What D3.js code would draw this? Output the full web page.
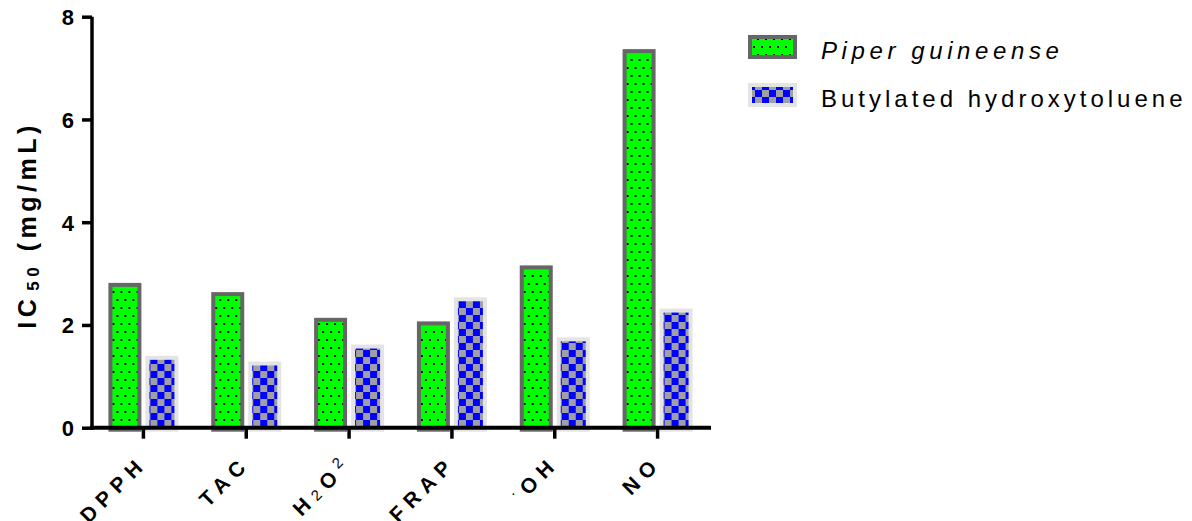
<!DOCTYPE html>
<html><head><meta charset="utf-8">
<script src="https://cdn.jsdelivr.net/npm/d3@7"></script>
<style>
html,body{margin:0;padding:0;background:#fff;}
svg{display:block;font-family:"Liberation Sans",Arial,sans-serif;}
</style></head>
<body>
<svg id="c" width="1192" height="521"></svg>
<script>
// ---- data ----
const categories = ["DPPH", "TAC", "H2O2", "FRAP", "OH", "NO"];
const categoryLabels = [
  [["DPPH", ""]],
  [["TAC", ""]],
  [["H", ""], ["2", "sub"], ["O", ""], ["2", "sup"]],
  [["FRAP", ""]],
  [["·", "sup"], ["OH", ""]],
  [["NO", ""]]
];
const seriesNames = ["Piper guineense", "Butylated hydroxytoluene"];
const piperValues = [2.78, 2.60, 2.10, 2.03, 3.12, 7.33];
const bhtValues = [1.36, 1.25, 1.58, 2.50, 1.72, 2.28];
const yTicks = [0, 2, 4, 6, 8];

const svg = d3.select("#c");
const defs = svg.append("defs");

// patterns
const pd = defs.append("pattern").attr("id", "dots").attr("patternUnits", "userSpaceOnUse")
  .attr("width", 8).attr("height", 16);
pd.append("rect").attr("width", 8).attr("height", 16).attr("fill", "#00ff00");
pd.append("rect").attr("x", 1).attr("y", 3).attr("width", 2).attr("height", 2).attr("fill", "#000");
pd.append("rect").attr("x", 5).attr("y", 11).attr("width", 2).attr("height", 2).attr("fill", "#000");

const pc = defs.append("pattern").attr("id", "check").attr("patternUnits", "userSpaceOnUse")
  .attr("width", 14).attr("height", 14);
pc.append("rect").attr("width", 14).attr("height", 14).attr("fill", "#a0a0a4");
pc.append("rect").attr("x", 0).attr("y", 0).attr("width", 7).attr("height", 7).attr("fill", "#0000ff");
pc.append("rect").attr("x", 7).attr("y", 7).attr("width", 7).attr("height", 7).attr("fill", "#0000ff");

const fills = ["url(#dots)", "url(#check)"];
const strokes = ["#666666", "#e4e4e4"];

const x0 = d3.scaleBand().domain(categories).range([92, 709]).paddingInner(0).paddingOuter(0);
const x1 = d3.scaleBand().domain(seriesNames).range([-35, 35]).paddingInner(4 / 37);
const y = d3.scaleLinear().domain([0, 8]).range([427.7, 16.7]);

const data = categories.map((c, i) => ({cat: c, vals: [piperValues[i], bhtValues[i]]}));

// bars
const sw = 4;
const groups = svg.append("g").selectAll("g").data(data).join("g")
  .attr("transform", d => `translate(${x0(d.cat) + x0.bandwidth() / 2},0)`);
groups.selectAll("rect").data(d => d.vals.map((v, k) => ({v, k, s: seriesNames[k]})))
  .join("rect")
  .attr("x", d => x1(d.s) + sw / 2)
  .attr("width", x1.bandwidth() - sw)
  .attr("y", d => y(d.v))
  .attr("height", d => y(0) - y(d.v) + 2)
  .attr("fill", d => fills[d.k])
  .attr("stroke", d => strokes[d.k])
  .attr("stroke-width", sw);

// y axis
const yAxis = d3.axisLeft(y).tickValues(yTicks).tickSize(10).tickPadding(8).tickFormat(d3.format("d"));
const gy = svg.append("g").attr("transform", "translate(92,0)").call(yAxis);
gy.select(".domain").attr("stroke", "#000").attr("stroke-width", 3.5).attr("d", `M0,${y(8)}V${y(0) + 2}`);
gy.selectAll(".tick line").attr("stroke", "#000").attr("stroke-width", 3.5);
gy.selectAll(".tick text").attr("fill", "#000").attr("font-size", 22).attr("font-weight", "bold")
  .attr("font-family", "'Liberation Sans',Arial,sans-serif").attr("dy", "0.36em");

// x axis
const xAxis = d3.axisBottom(x0).tickSize(11).tickFormat("");
const gx = svg.append("g").attr("transform", `translate(0,${y(0)})`).call(xAxis);
gx.select(".domain").attr("stroke", "#000").attr("stroke-width", 4).attr("d", "M90,0H711");
gx.selectAll(".tick line").attr("stroke", "#000").attr("stroke-width", 3.5);

// x tick labels
const lbl = svg.append("g").selectAll("text").data(categories).join("text")
  .attr("transform", d => `translate(${x0(d) + x0.bandwidth() / 2 + 5},${y(0) + 37}) rotate(-45)`)
  .attr("text-anchor", "end")
  .attr("font-size", 21).attr("font-weight", "bold").attr("letter-spacing", 6.5).attr("fill", "#000");
lbl.each(function (d, i) {
  const t = d3.select(this);
  categoryLabels[i].forEach(([s, kind], j) => {
    const sp = t.append("tspan").text(s);
    if (kind === "sub") sp.attr("font-size", 15).attr("font-weight", "normal").attr("dy", 0);
    if (kind === "sup") sp.attr("font-size", 15).attr("font-weight", "normal").attr("dy", -8);
    if (kind === "" && j > 0 && categoryLabels[i][j - 1][1] === "sup") sp.attr("dy", 8);
  });
});

// y axis title
const yt = svg.append("text")
  .attr("transform", "translate(36,225) rotate(-90)")
  .attr("text-anchor", "middle").attr("font-size", 25).attr("font-weight", "bold")
  .attr("letter-spacing", 4.5).attr("fill", "#000");
yt.append("tspan").text("IC");
yt.append("tspan").text("50").attr("font-size", 17).attr("dy", 3).attr("dx", 4);
yt.append("tspan").text(" (mg/mL)").attr("dy", -3);

// legend
const leg = svg.append("g").selectAll("g").data(seriesNames).join("g")
  .attr("transform", (d, i) => `translate(748,${35 + i * 48})`);
leg.append("rect").attr("x", 2).attr("y", 2).attr("width", 45).attr("height", 20)
  .attr("fill", (d, i) => fills[i]).attr("stroke", (d, i) => strokes[i]).attr("stroke-width", sw);
leg.append("text").attr("x", 73).attr("y", 24)
  .attr("font-size", 24).attr("letter-spacing", (d, i) => i === 0 ? 4.6 : 4).attr("fill", "#000")
  .attr("font-style", (d, i) => i === 0 ? "italic" : "normal")
  .text(d => d);
</script>
</body></html>
